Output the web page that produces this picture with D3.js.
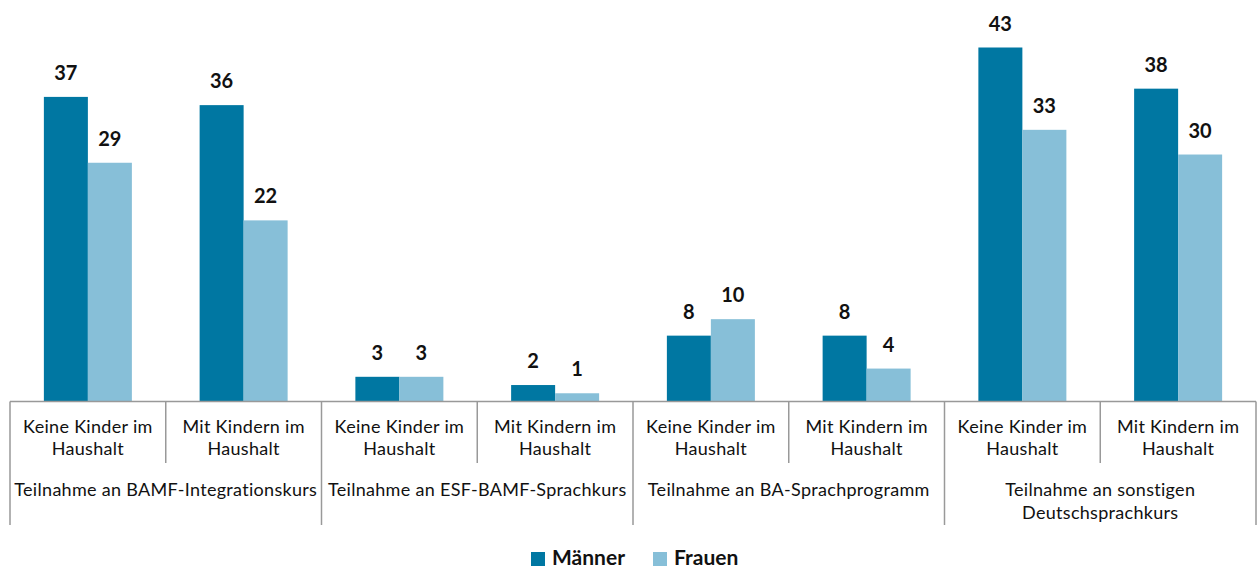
<!DOCTYPE html>
<html>
<head>
<meta charset="utf-8">
<script src="https://cdn.jsdelivr.net/npm/d3@7"></script>
<style>
  body { margin: 0; background: #fff; }
  text { font-family: Lato, "Open Sans", sans-serif; fill: #111; }
</style>
</head>
<body>
<div id="wrapper"></div>
<script>
// Data
const groups = [
    ["Teilnahme an BAMF-Integrationskurs"],
    ["Teilnahme an ESF-BAMF-Sprachkurs"],
    ["Teilnahme an BA-Sprachprogramm"],
    ["Teilnahme an sonstigen", "Deutschsprachkurs"],
]
const subLabels = [["Keine Kinder im", "Haushalt"], ["Mit Kindern im", "Haushalt"]]
const seriesNames = ["Männer", "Frauen"]
const maenner = [37, 36, 3, 2, 8, 8, 43, 38]
const frauen = [29, 22, 3, 1, 10, 4, 33, 30]
const colors = ["#0077a2", "#87bfd8"]

function drawChart() {
    const dimensions = {
        width: 1259,
        height: 570,
        left: 10,
        right: 1256,
        baseline: 401.5,
    }

    const svg = d3.select("#wrapper")
        .append("svg")
        .attr("width", dimensions.width)
        .attr("height", dimensions.height)

    const cats = d3.range(maenner.length)
    const xScale = d3.scaleBand()
        .domain(cats)
        .range([dimensions.left, dimensions.right])
    const xInner = d3.scaleBand()
        .domain([0, 1])
        .range([0, 88])

    const yScale = d3.scaleLinear()
        .domain([0, 43])
        .range([dimensions.baseline, 47.5])

    const bars = svg.append("g")
    cats.forEach(i => {
        const off = xScale(i) + (xScale.bandwidth() - 88) / 2
        const vals = [maenner[i], frauen[i]]
        vals.forEach((v, s) => {
            bars.append("rect")
                .attr("x", off + xInner(s))
                .attr("width", xInner.bandwidth())
                .attr("y", yScale(v))
                .attr("height", dimensions.baseline - yScale(v))
                .attr("fill", colors[s])
            bars.append("text")
                .attr("x", off + xInner(s) + xInner.bandwidth() / 2)
                .attr("y", yScale(v) - 17)
                .attr("text-anchor", "middle")
                .style("font-size", "20px")
                .style("font-weight", "bold")
                .text(v)
        })
    })

    // Axis lines
    const axis = svg.append("g")
        .attr("stroke", "#999")
        .attr("stroke-width", 1.5)
    axis.append("line")
        .attr("x1", dimensions.left).attr("x2", dimensions.right)
        .attr("y1", dimensions.baseline).attr("y2", dimensions.baseline)
    d3.range(maenner.length + 1).forEach(i => {
        const x = i < maenner.length ? xScale(i) : dimensions.right
        axis.append("line")
            .attr("x1", x).attr("x2", x)
            .attr("y1", dimensions.baseline)
            .attr("y2", i % 2 === 0 ? 525 : 463)
    })

    // Category labels
    cats.forEach(i => {
        const t = svg.append("text")
            .attr("text-anchor", "middle")
            .style("font-size", "18px")
            .style("letter-spacing", "0.3px")
        subLabels[i % 2].forEach((line, j) => {
            t.append("tspan")
                .attr("x", xScale(i) + xScale.bandwidth() / 2)
                .attr("y", 433 + j * 22)
                .text(line)
        })
    })
    groups.forEach((lines, g) => {
        const t = svg.append("text")
            .attr("text-anchor", "middle")
            .style("font-size", "18px")
            .style("letter-spacing", "0.3px")
        lines.forEach((line, j) => {
            t.append("tspan")
                .attr("x", xScale(g * 2) + xScale.bandwidth())
                .attr("y", 496 + j * 23)
                .text(line)
        })
    })

    // Legend
    const legendX = [531, 653]
    seriesNames.forEach((name, s) => {
        svg.append("rect")
            .attr("x", legendX[s])
            .attr("y", 552)
            .attr("width", 14)
            .attr("height", 14)
            .attr("fill", colors[s])
        svg.append("text")
            .attr("x", legendX[s] + 21)
            .attr("y", 565)
            .style("font-size", "21px")
            .style("font-weight", "bold")
            .text(name)
    })
}

drawChart()
</script>
</body>
</html>
